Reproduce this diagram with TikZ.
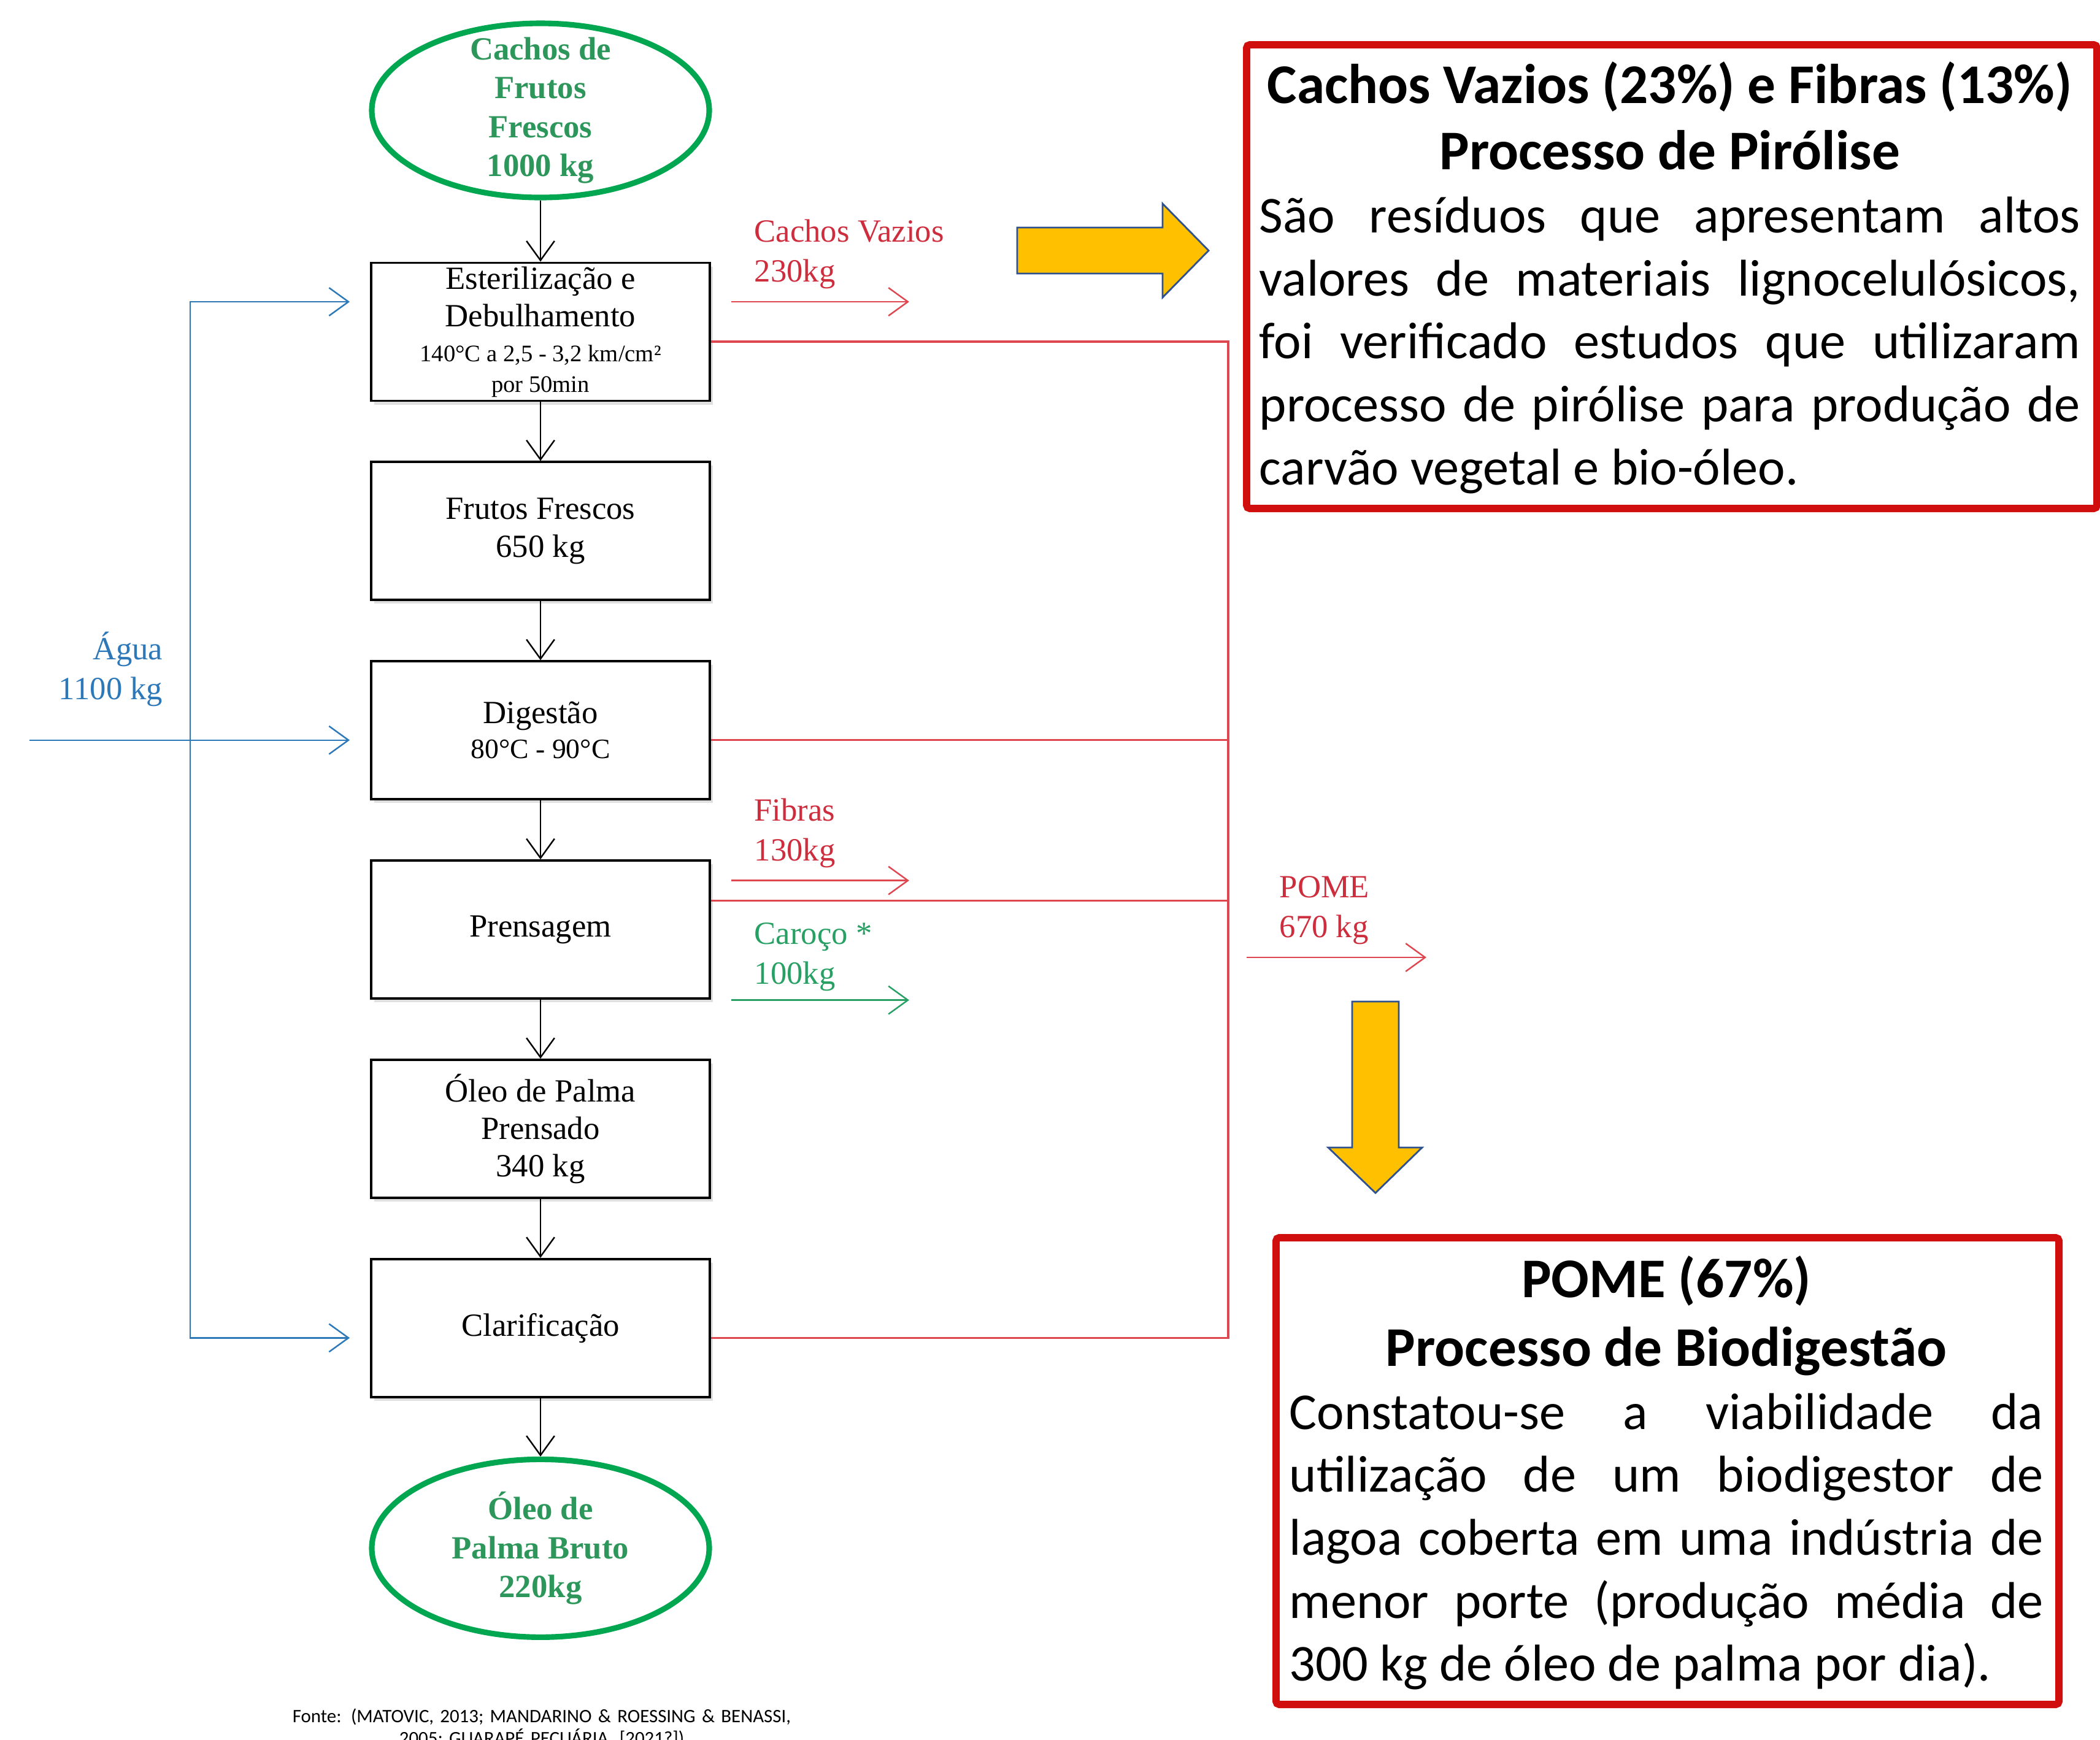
\documentclass[tikz,border=0pt]{standalone}
\usepackage{fontspec}
\setmainfont{Liberation Serif}
\newfontfamily\calibri{Carlito}
\usetikzlibrary{positioning,shapes.geometric,arrows.meta,shadows}
\definecolor{verdeelipse}{RGB}{0,166,80}
\definecolor{verdetexto}{RGB}{45,150,90}
\definecolor{verdecaroco}{RGB}{40,160,100}
\definecolor{vermelholinha}{RGB}{222,70,80}
\definecolor{vermelhotexto}{RGB}{205,45,60}
\definecolor{vermelhocaixa}{RGB}{208,14,14}
\definecolor{azul}{RGB}{45,120,185}
\definecolor{amarelo}{RGB}{255,192,0}
\definecolor{azulborda}{RGB}{47,82,143}
\begin{document}
\begin{tikzpicture}[
  etapa/.style={rectangle, draw, line width=1.1pt, fill=white, inner sep=1pt,
    minimum width=5.52cm, minimum height=2.25cm, align=center,
    font=\fontsize{15}{17.4}\selectfont,
    drop shadow={opacity=0.25, shadow xshift=0.5mm, shadow yshift=-0.6mm}},
  extremo/.style={ellipse, draw=verdeelipse, line width=2.6pt,
    minimum width=5.5cm, minimum height=2.84cm},
  rotextremo/.style={align=center, text=verdetexto,
    font=\fontsize{15}{18}\selectfont\bfseries},
  rotulo/.style={align=left, inner sep=0pt, font=\fontsize{15}{18.6}\selectfont},
  seta/.style={-{Straight Barb[length=9pt,width=13pt]}, line width=0.7pt},
  residuo/.style={draw=vermelholinha, line width=0.9pt},
  agua/.style={draw=azul, line width=0.9pt},
  moldura/.style={draw=vermelhocaixa, line width=3.4pt, rounded corners=1.5pt},
  textocaixa/.style={anchor=base west, inner sep=0pt, align=justify,
    font=\calibri\fontsize{24}{29.2}\selectfont},
  setagrande/.style={fill=amarelo, draw=azulborda, line width=0.8pt}
]
\path[use as bounding box, fill=white] (0,0) rectangle (34.23,-28.36);

% fluxograma
\node[extremo, label={[rotextremo]center:{Cachos de\\Frutos\\Frescos\\1000 kg}}] (cachos) at (8.81,-1.80) {};
\node[etapa, below=1cm of cachos] (este) {Esterilização e\\Debulhamento\\[-1.2pt]{\fontsize{11}{14.2}\selectfont 140°C a 2,5 - 3,2 km/cm²}\\[-3.2pt]{\fontsize{11}{14.2}\selectfont por 50min}};
\node[etapa, below=0.96cm of este] (frutos) {Frutos Frescos\\650 kg};
\node[etapa, below=0.96cm of frutos] (dig) {Digestão\\[-1.2pt]{\fontsize{13}{16}\selectfont 80°C - 90°C}};
\node[etapa, below=0.96cm of dig] (prens) {Prensagem};
\node[etapa, below=0.96cm of prens] (oleo) {Óleo de Palma\\Prensado\\340 kg};
\node[etapa, below=0.96cm of oleo] (clar) {Clarificação};
\node[extremo, minimum height=2.9cm, below=0.95cm of clar,
  label={[rotextremo]center:{Óleo de\\Palma Bruto\\220kg}}] (bruto) {};

\foreach \a/\b in {cachos/este, este/frutos, frutos/dig, dig/prens, prens/oleo, oleo/clar, clar/bruto}
  \draw[seta] (\a) -- (\b);

% entrada de agua
\coordinate (esteinv) at ([xshift=-3.3mm,yshift=4.9mm]este.west);
\coordinate (diginv) at ([xshift=-3.3mm,yshift=-1.6mm]dig.west);
\coordinate (clarinv) at ([xshift=-3.3mm,yshift=-1.6mm]clar.west);
\coordinate (agua0) at ([xshift=-5.22cm]diginv);
\coordinate (aguabus) at ([xshift=-2.60cm]diginv);
\draw[agua, seta] (agua0) -- (diginv);
\draw[agua, seta] (aguabus) |- (esteinv);
\draw[agua, seta] (aguabus) |- (clarinv);
\node[rotulo, text=azul, align=right, anchor=east] (agua) at (2.66,-10.91) {Água\\1100 kg};

% residuos
\coordinate (bus) at (20.02,-12.03);
\coordinate (esteout) at ([yshift=-1.6mm]este.east);
\coordinate (digout) at ([yshift=-1.6mm]dig.east);
\coordinate (prensout) at ([yshift=4.7mm]prens.east);
\coordinate (clarout) at ([yshift=-1.6mm]clar.east);
\draw[residuo] (esteout) -- (esteout -| bus) -- (clarout -| bus) -- (clarout);
\draw[residuo] (digout) -- (digout -| bus);
\draw[residuo] (prensout) -- (prensout -| bus);

\coordinate (cvini) at ([xshift=3.3mm,yshift=4.9mm]este.east);
\coordinate (cvfim) at ([xshift=32.3mm,yshift=4.9mm]este.east);
\draw[residuo, seta] (cvini) -- (cvfim);
\node[rotulo, text=vermelhotexto, anchor=south west] (cvrot) at ([xshift=3.7mm,yshift=2mm]cvini) {Cachos Vazios\\230kg};

\coordinate (fibini) at ([xshift=3.3mm,yshift=8mm]prens.east);
\coordinate (fibfim) at ([xshift=32.3mm,yshift=8mm]prens.east);
\draw[residuo, seta] (fibini) -- (fibfim);
\node[rotulo, text=vermelhotexto, anchor=south west] (fibrot) at ([xshift=3.7mm,yshift=2mm]fibini) {Fibras\\130kg};

\coordinate (carini) at ([xshift=3.3mm,yshift=-11.5mm]prens.east);
\coordinate (carfim) at ([xshift=32.3mm,yshift=-11.5mm]prens.east);
\draw[draw=verdecaroco, line width=0.9pt, seta] (carini) -- (carfim);
\node[rotulo, text=verdecaroco, anchor=south west] (carrot) at ([xshift=3.7mm,yshift=1.4mm]carini) {Caroço *\\100kg};

\coordinate (pomeini) at (20.32,-15.61);
\coordinate (pomefim) at (23.25,-15.61);
\draw[residuo, seta] (pomeini) -- (pomefim);
\node[rotulo, text=vermelhotexto, anchor=south west] (pomerot) at ([xshift=5.3mm,yshift=2mm]pomeini) {POME\\670 kg};

% setas amarelas
\draw[setagrande] (16.58,-3.71) -- (18.95,-3.71) -- (18.95,-3.32) -- (19.70,-4.085)
  -- (18.95,-4.85) -- (18.95,-4.46) -- (16.58,-4.46) -- cycle;
\draw[setagrande] (22.04,-16.33) -- (22.80,-16.33) -- (22.80,-18.71) -- (23.18,-18.71)
  -- (22.42,-19.45) -- (21.65,-18.71) -- (22.04,-18.71) -- cycle;

% caixas de texto
\node[moldura, minimum width=13.86cm, minimum height=7.56cm] (pirolise) at (27.25,-4.51) {};
\node[textocaixa, text width=13.38cm] (pirtexto) at (20.52,-1.68) {\hyphenpenalty=10000
  {\centering\fontsize{26}{31}\bfseries Cachos Vazios (23\%) e Fibras (13\%)\par Processo de Pirólise\par}
  São resíduos que apresentam altos\linebreak valores de materiais lignocelulósicos,\linebreak
  foi verificado estudos que utilizaram\linebreak processo de pirólise para produção de\linebreak
  carvão vegetal e bio-óleo.};

\node[moldura, minimum width=12.76cm, minimum height=7.61cm] (biodig) at (27.18,-23.985) {};
\node[textocaixa, text width=12.29cm] (biotexto) at (21.01,-21.15) {\hyphenpenalty=10000
  {\centering\fontsize{26}{32}\bfseries POME (67\%)\par Processo de Biodigestão\par}
  Constatou-se a viabilidade da\linebreak utilização de um biodigestor de\linebreak
  lagoa coberta em uma indústria de\linebreak menor porte (produção média de\linebreak
  300 kg de óleo de palma por dia).};

% fonte
\node[anchor=base, inner sep=0pt, text width=10cm, align=center,
  font=\calibri\fontsize{8.8}{10.5}\selectfont] (fonte) at (8.83,-28.08)
  {Fonte: (MATOVIC, 2013; MANDARINO \& ROESSING \& BENASSI,\\2005; GUARAPÉ PECUÁRIA, [2021?])};
\end{tikzpicture}
\end{document}
